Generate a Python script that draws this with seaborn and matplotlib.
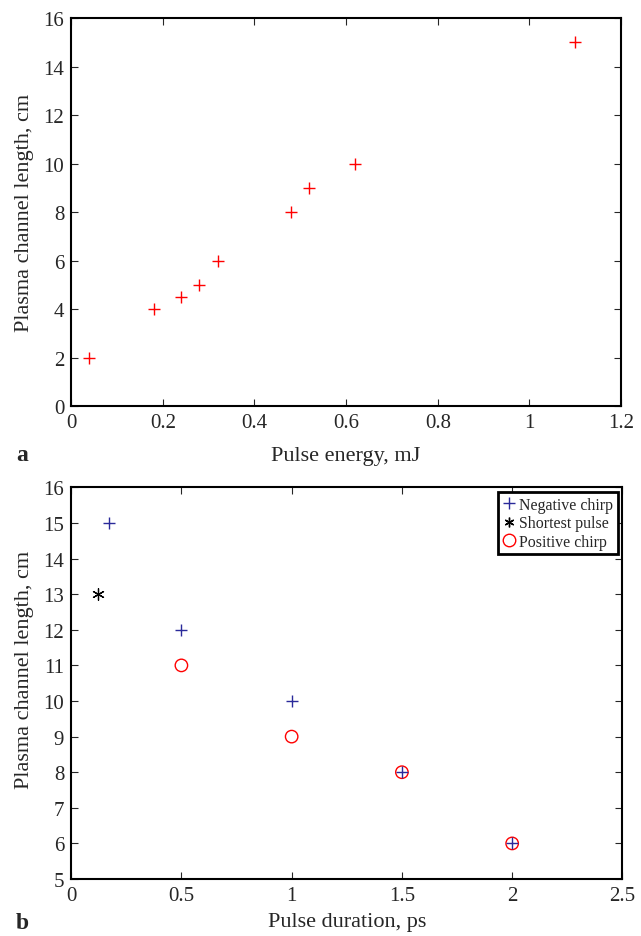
import matplotlib
matplotlib.use("Agg")
import matplotlib.pyplot as plt
from matplotlib.lines import Line2D
import seaborn as sns
import pandas as pd

# Panel a data
energy_mj = [0.04, 0.18, 0.24, 0.28, 0.32, 0.48, 0.52, 0.62, 1.1]
length_a = [2, 4, 4.5, 5, 6, 8, 9, 10, 15]

# Panel b data
neg_dur = [0.17, 0.5, 1.0, 1.5, 2.0]
neg_len = [15, 12, 10, 8, 6]
short_dur = [0.12]
short_len = [13]
pos_dur = [0.5, 1.0, 1.5, 2.0]
pos_len = [11, 9, 8, 6]

sns.set_style("ticks")
plt.rcParams['font.family'] = ['Liberation Serif', 'DejaVu Serif']

fig = plt.figure(figsize=(6.41, 9.37), dpi=100)
ax1 = fig.add_axes([0.111, 0.5656, 0.858, 0.414])
ax2 = fig.add_axes([0.111, 0.0608, 0.860, 0.418])

fs = 15
blue = '#2a2a9a'

def style_axis(ax):
    ax.tick_params(direction='in', top=True, right=True, length=5, width=0.8,
                   labelsize=fs, pad=5)
    for s in ax.spines.values():
        s.set_linewidth(1.5)
        s.set_color('black')

# Panel a
df_a = pd.DataFrame({"energy": energy_mj, "length": length_a})
sns.scatterplot(data=df_a, x="energy", y="length", marker='+', s=75,
                color='red', linewidth=1.0, ax=ax1)
ax1.set_xlim(0, 1.2)
ax1.set_ylim(0, 16)
ax1.set_xticks([0, 0.2, 0.4, 0.6, 0.8, 1.0, 1.2])
ax1.set_xticklabels(['0', '0.2', '0.4', '0.6', '0.8', '1', '1.2'])
ax1.set_yticks(range(0, 17, 2))
ax1.set_xlabel("Pulse energy, mJ", fontsize=fs + 1, labelpad=10)
ax1.set_ylabel("Plasma channel length, cm", fontsize=fs + 1, labelpad=6)
ax1.yaxis.set_label_coords(-0.067, 0.5)
style_axis(ax1)
ax1.text(-0.10, -0.098, "a", transform=ax1.transAxes, fontsize=fs + 2,
         fontweight='bold', va='top', ha='left')

# Panel b
df_neg = pd.DataFrame({"dur": neg_dur, "len": neg_len})
df_short = pd.DataFrame({"dur": short_dur, "len": short_len})
df_pos = pd.DataFrame({"dur": pos_dur, "len": pos_len})
sns.scatterplot(data=df_pos, x="dur", y="len", marker='o', s=80,
                facecolors='none', edgecolor='red', linewidth=1.0,
                ax=ax2, zorder=2)
sns.scatterplot(data=df_neg, x="dur", y="len", marker='+', s=75,
                color=blue, linewidth=1.0, ax=ax2, zorder=3)
sns.scatterplot(data=df_short, x="dur", y="len", marker=(6, 2, 0), s=70,
                color='black', linewidth=0.9, ax=ax2, zorder=3)

handles = [
    Line2D([], [], ls='none', marker='+', ms=9, mew=1.0, color=blue),
    Line2D([], [], ls='none', marker=(6, 2, 0), ms=7, mew=1.0, color='black'),
    Line2D([], [], ls='none', marker='o', ms=9, mew=1.0, mfc='none', mec='red'),
]
leg = ax2.legend(handles, ["Negative chirp", "Shortest pulse", "Positive chirp"],
                 loc='upper right', fontsize=11.4, frameon=True, fancybox=False,
                 handlelength=0.8, handletextpad=0.2, borderpad=0.3,
                 labelspacing=0.15, borderaxespad=0.3)
leg.get_frame().set_edgecolor('black')
leg.get_frame().set_linewidth(2.0)
leg.get_frame().set_alpha(1)

ax2.set_xlim(0, 2.5)
ax2.set_ylim(5, 16)
ax2.set_xticks([0, 0.5, 1, 1.5, 2, 2.5])
ax2.set_xticklabels(['0', '0.5', '1', '1.5', '2', '2.5'])
ax2.set_yticks(range(5, 17))
ax2.set_xlabel("Pulse duration, ps", fontsize=fs + 1, labelpad=5)
ax2.set_ylabel("Plasma channel length, cm", fontsize=fs + 1, labelpad=6)
ax2.yaxis.set_label_coords(-0.067, 0.537)
style_axis(ax2)
ax2.text(-0.10, -0.085, "b", transform=ax2.transAxes, fontsize=fs + 2,
         fontweight='bold', va='top', ha='left')

fig.savefig("out.png", dpi=100, facecolor='white')
